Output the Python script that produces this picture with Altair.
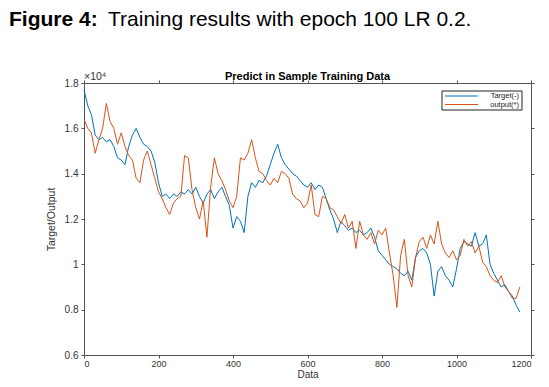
import altair as alt
import pandas as pd

# ---- data (values in units of 1e4), sampled every 10 data points ----
idx = list(range(0, 1180, 10))
target = [1.77, 1.70, 1.66, 1.57, 1.55, 1.56, 1.54, 1.55, 1.52, 1.47,
          1.46, 1.44, 1.52, 1.57, 1.60, 1.56, 1.53, 1.52, 1.50, 1.45,
          1.36, 1.30, 1.31, 1.29, 1.31, 1.30, 1.32, 1.31, 1.33, 1.31,
          1.34, 1.30, 1.27, 1.31, 1.33, 1.29, 1.32, 1.34, 1.30, 1.26,
          1.16, 1.21, 1.19, 1.14, 1.30, 1.36, 1.34, 1.37, 1.36, 1.39,
          1.44, 1.49, 1.53, 1.47, 1.44, 1.42, 1.40, 1.39, 1.37, 1.35,
          1.34, 1.36, 1.33, 1.35, 1.34, 1.29, 1.24, 1.20, 1.14, 1.19,
          1.17, 1.15, 1.16, 1.14, 1.15, 1.13, 1.14, 1.16, 1.12, 1.06,
          1.04, 1.02, 1.00, 0.99, 0.98, 0.96, 0.95, 0.97, 0.93, 1.03,
          1.06, 1.07, 1.05, 1.00, 0.86, 0.97, 0.99, 0.95, 0.93, 0.90,
          0.98, 1.07, 1.10, 1.09, 1.08, 1.14, 1.08, 1.09, 1.13, 1.00,
          0.96, 0.93, 0.90, 0.91, 0.88, 0.86, 0.82, 0.79]
output = [1.64, 1.60, 1.58, 1.49, 1.55, 1.60, 1.71, 1.63, 1.60, 1.53,
          1.58, 1.52, 1.48, 1.46, 1.38, 1.36, 1.46, 1.50, 1.44, 1.38,
          1.32, 1.29, 1.25, 1.22, 1.27, 1.29, 1.30, 1.48, 1.47, 1.33,
          1.25, 1.20, 1.28, 1.12, 1.34, 1.47, 1.40, 1.37, 1.33, 1.28,
          1.25, 1.30, 1.47, 1.46, 1.49, 1.55, 1.47, 1.41, 1.40, 1.37,
          1.35, 1.38, 1.36, 1.41, 1.40, 1.38, 1.31, 1.29, 1.28, 1.25,
          1.27, 1.35, 1.22, 1.21, 1.30, 1.29, 1.25, 1.24, 1.21, 1.18,
          1.22, 1.16, 1.19, 1.07, 1.19, 1.13, 1.11, 1.14, 1.09, 1.15,
          1.13, 1.16, 1.05, 0.95, 0.81, 1.04, 1.11, 0.95, 0.90, 1.03,
          1.10, 1.12, 1.07, 1.13, 1.09, 1.19, 1.09, 1.05, 1.03, 1.06,
          1.02, 1.04, 1.11, 1.08, 1.10, 1.05, 1.08, 1.01, 0.99, 0.95,
          0.93, 0.92, 0.95, 0.90, 0.88, 0.85, 0.85, 0.90]

series_names = ["Target(-)", "output(*)"]
series_colors = ["#0072BD", "#D95319"]
x_ticks = [0, 200, 400, 600, 800, 1000, 1200]
y_ticks = [0.6, 0.8, 1.0, 1.2, 1.4, 1.6, 1.8]
caption_bold = "Figure 4:"
caption_rest = "Training results with epoch 100 LR 0.2."
plot_title = "Predict in Sample Training Data"
exponent_label = "\u00d710\u2074"

rows = []
for name, vals in zip(series_names, [target, output]):
    for d, v in zip(idx, vals):
        rows.append({"d": d, "v": v, "s": name})
df = pd.DataFrame(rows)

xs = alt.Scale(domain=[0, 1200], nice=False, zero=False)
ys = alt.Scale(domain=[0.6, 1.8], nice=False, zero=False)
axis_col = "#555555"
lab_col = "#333333"
font = "Liberation Sans"

lines = alt.Chart(df).mark_line(strokeWidth=1).encode(
    x=alt.X("d:Q", scale=xs, axis=alt.Axis(values=x_ticks, format="d", title="Data", grid=False,
            tickSize=3, labelFontSize=9, titleFontSize=10, labelColor=lab_col,
            titleColor=lab_col, domainColor=axis_col, tickColor=axis_col,
            titleFontWeight="normal", labelPadding=1, titleBaseline="alphabetic", titleY=22,
            labelFont=font, titleFont=font)),
    y=alt.Y("v:Q", scale=ys, axis=alt.Axis(values=y_ticks, format="~g", title="Target/Output",
            grid=False, tickSize=3, labelFontSize=10, titleFontSize=10.5, labelColor=lab_col,
            titleColor=lab_col, domainColor=axis_col, tickColor=axis_col,
            titleFontWeight="normal", labelPadding=3, titlePadding=8, labelFont=font, titleFont=font)),
    color=alt.Color("s:N", scale=alt.Scale(domain=series_names, range=series_colors), legend=None),
    order="d:Q",
)

frame = alt.Chart(df).mark_line(opacity=0).encode(
    x=alt.X("d:Q", scale=xs, axis=alt.Axis(orient="top", values=x_ticks, labels=False,
            title=None, grid=False, tickSize=3, domainColor=axis_col, tickColor=axis_col)),
    y=alt.Y("v:Q", scale=ys, axis=alt.Axis(orient="right", values=y_ticks, labels=False,
            title=None, grid=False, tickSize=3, domainColor=axis_col, tickColor=axis_col)),
    detail="s:N",
)

one = pd.DataFrame({"k": [0]})
cap1 = alt.Chart(pd.DataFrame({"t": [caption_bold]})).mark_text(
    align="left", baseline="alphabetic", fontSize=21, fontWeight="bold", font=font, color="#000000"
).encode(x=alt.value(-75), y=alt.value(-57), text="t:N")
cap2 = alt.Chart(pd.DataFrame({"t": [caption_rest]})).mark_text(
    align="left", baseline="alphabetic", fontSize=21, font=font, color="#000000"
).encode(x=alt.value(24), y=alt.value(-57), text="t:N")
ttl = alt.Chart(pd.DataFrame({"t": [plot_title]})).mark_text(
    align="center", baseline="alphabetic", fontSize=11, fontWeight="bold", font=font, color="#000000"
).encode(x=alt.value(223.5), y=alt.value(-3), text="t:N")
expo = alt.Chart(pd.DataFrame({"t": [exponent_label]})).mark_text(
    align="left", baseline="alphabetic", fontSize=10.5, font=font, color=lab_col
).encode(x=alt.value(0), y=alt.value(-3), text="t:N")

# manual MATLAB-style legend box
leg_box = alt.Chart(one).mark_rect(fill="white", stroke="#222222", strokeWidth=1).encode(
    x=alt.value(358), x2=alt.value(438), y=alt.value(8), y2=alt.value(27))
leg_layers = [leg_box]
for i, (name, col) in enumerate(zip(series_names, series_colors)):
    yy = 13 + 8.5 * i
    leg_layers.append(alt.Chart(one).mark_rule(color=col, strokeWidth=1).encode(
        x=alt.value(361), x2=alt.value(394), y=alt.value(yy)))
    leg_layers.append(alt.Chart(pd.DataFrame({"t": [name]})).mark_text(
        align="right", baseline="middle", fontSize=7.5, font=font, color="#222222"
    ).encode(x=alt.value(435), y=alt.value(yy), text="t:N"))

chart = alt.layer(lines, frame, cap1, cap2, ttl, expo, *leg_layers).resolve_axis(
    x="independent", y="independent"
).properties(
    width=447, height=272,
    autosize=alt.AutoSizeParams(type="none"),
    padding={"left": 76, "top": 75, "right": 10, "bottom": 24},
    background="white",
).configure_view(stroke=None)

chart.save("out.html", embed_options={"renderer": "svg", "actions": False})
